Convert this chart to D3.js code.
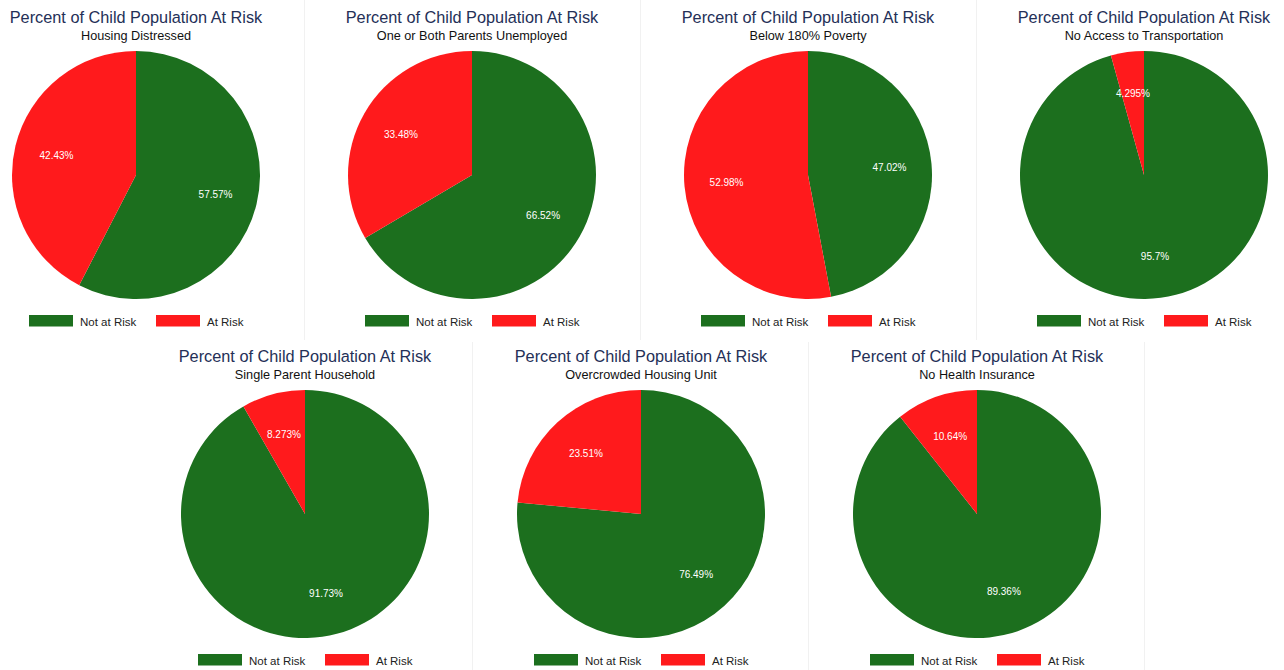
<!DOCTYPE html>
<meta charset="utf-8">
<style>
body { margin: 0; background: #fff; }
svg { display: block; font-family: "Liberation Sans", Arial, sans-serif; }
.title { fill: #243057; font-size: 16.3px; }
.subtitle { fill: #111; font-size: 12.7px; }
.legend text { fill: #222; font-size: 11.5px; }
.slice-label { fill: #fff; font-size: 10px; }
.divider { stroke: #f1f1f1; stroke-width: 1; }
</style>
<body>
<svg width="1284" height="670"></svg>
<script src="https://d3js.org/d3.v7.min.js"></script>
<script>

// chart values
var subtitles = ["Housing Distressed", "One or Both Parents Unemployed", "Below 180% Poverty",
                 "No Access to Transportation", "Single Parent Household",
                 "Overcrowded Housing Unit", "No Health Insurance"];
var notAtRisk = [57.57, 66.52, 47.02, 95.7, 91.73, 76.49, 89.36];
var atRisk    = [42.43, 33.48, 52.98, 4.295, 8.273, 23.51, 10.64];
var categories = ["Not at Risk", "At Risk"];
var titleText = "Percent of Child Population At Risk";

var svg = d3.select("svg"),
    panelW = 336,
    radius = 124;

var color = d3.scaleOrdinal()
    .domain(categories)
    .range(["#1c6f1e", "#ff1a1c"]);

var fmt = d3.format(".4~r");

var pie = d3.pie()
    .sort(null)
    .value(function(d) { return d.value; });

var arc = d3.arc().innerRadius(0).outerRadius(radius);
var labelArc = d3.arc().innerRadius(radius * 0.66).outerRadius(radius * 0.66);

// panel placement: 4 on the top row, 3 on the bottom row shifted by half a panel
function panelPos(i) {
  if (i < 4) return {cx: 136 + i * panelW, top: 0, row: 0};
  return {cx: 305 + (i - 4) * panelW, top: 339, row: 1};
}

// faint dividers
[0, 1, 2].forEach(function(i) {
  svg.append("line").attr("class", "divider")
    .attr("x1", 136 + i * panelW + 168.5).attr("x2", 136 + i * panelW + 168.5)
    .attr("y1", 0).attr("y2", 340);
  svg.append("line").attr("class", "divider")
    .attr("x1", 305 + i * panelW + 167.5).attr("x2", 305 + i * panelW + 167.5)
    .attr("y1", 342).attr("y2", 670);
});

subtitles.forEach(function(sub, i) {
  var p = panelPos(i);
  var g = svg.append("g").attr("transform", "translate(" + p.cx + "," + p.top + ")");

  g.append("text").attr("class", "title")
    .attr("text-anchor", "middle")
    .attr("y", 23)
    .text(titleText);

  g.append("text").attr("class", "subtitle")
    .attr("text-anchor", "middle")
    .attr("y", 39.5)
    .text(sub);

  var data = [
    {key: categories[0], value: notAtRisk[i]},
    {key: categories[1], value: atRisk[i]}
  ];

  var pg = g.append("g").attr("transform", "translate(0," + 175 + ")");
  var arcs = pie(data);

  pg.selectAll("path")
    .data(arcs)
    .enter().append("path")
      .attr("d", arc)
      .attr("fill", function(d) { return color(d.data.key); });

  pg.selectAll(".slice-label")
    .data(arcs)
    .enter().append("text")
      .attr("class", "slice-label")
      .attr("text-anchor", "middle")
      .attr("dy", "0.35em")
      .attr("transform", function(d) { return "translate(" + labelArc.centroid(d) + ")"; })
      .text(function(d) { return fmt(d.data.value) + "%"; });

  // legend
  var lg = g.append("g").attr("class", "legend")
    .attr("transform", "translate(-107," + 315 + ")");
  var offsets = [0, 127];
  categories.forEach(function(c, k) {
    lg.append("rect")
      .attr("x", offsets[k]).attr("y", 0)
      .attr("width", 44).attr("height", 11.5)
      .attr("fill", color(c));
    lg.append("text")
      .attr("x", offsets[k] + 51).attr("y", 10.5)
      .text(c);
  });
});

</script>
</body>
